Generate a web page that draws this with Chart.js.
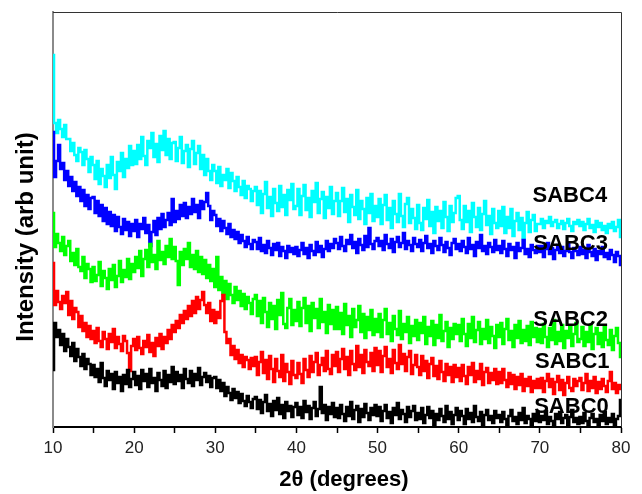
<!DOCTYPE html>
<html lang="en">
<head>
    <meta charset="UTF-8">
    <title>XRD SABC0 - SABC4</title>
    <script src="https://cdn.jsdelivr.net/npm/chart.js"></script>
    <style>
        html, body { margin: 0; padding: 0; background: #fff; }
    </style>
</head>
<body>

    <canvas id="xrdChart" width="642" height="494"></canvas>

    <script>
        // scan from 10 to 80 deg 2theta, one reading every 0.25 deg
        const thetaStart = 10;
        const thetaStep = 0.25;
        const xTickLabels = [10, 20, 30, 40, 50, 60, 70, 80];
        const sampleNames = ["SABC0", "SABC1", "SABC2", "SABC3", "SABC4"];

        // intensities (arb. units, already stacked), 20 readings per row = 5 deg
        const sabc0 = [
            57, 104, 90, 97, 82, 93, 76, 88, 80, 71, 84, 66, 78, 70, 61, 73, 58, 68, 63, 52,
            62, 50, 58, 45, 64, 49, 41, 56, 47, 53, 38, 55, 44, 50, 36, 52, 43, 57, 40, 48,
            55, 42, 51, 38, 57, 46, 53, 40, 58, 44, 49, 36, 54, 47, 41, 56, 39, 52, 45, 60,
            43, 55, 46, 52, 39, 58, 48, 44, 56, 41, 53, 47, 59, 42, 50, 54, 45, 51, 40, 49,
            50, 39, 47, 36, 44, 31, 40, 34, 27, 38, 29, 35, 24, 33, 26, 21, 31, 25, 19, 28,
            30, 18, 27, 14, 25, 32, 16, 23, 11, 26, 17, 29, 13, 22, 9, 25, 16, 21, 10, 20,
            24, 12, 20, 9, 26, 15, 21, 8, 19, 25, 11, 18, 40, 14, 22, 7, 20, 13, 24, 10,
            19, 9, 22, 13, 6, 20, 11, 25, 8, 17, 21, 5, 18, 10, 23, 14, 7, 19, 12, 22,
            11, 20, 6, 16, 22, 9, 15, 4, 19, 12, 24, 8, 17, 13, 5, 20, 10, 16, 21, 7,
            14, 8, 19, 4, 12, 20, 9, 16, 2, 13, 7, 18, 11, 5, 21, 8, 15, 3, 12, 19,
            7, 16, 11, 3, 18, 8, 14, 5, 21, 10, 6, 15, 2, 12, 17, 7, 11, 4, 16, 9,
            12, 5, 15, 8, 2, 11, 17, 6, 10, 3, 14, 7, 19, 4, 11, 8, 2, 13, 6, 15,
            5, 11, 7, 16, 3, 10, 6, 1, 13, 8, 15, 4, 9, 12, 2, 10, 17, 5, 9, 3,
            10, 4, 14, 6, 2, 9, 13, 5, 8, 1, 12, 6, 15, 3, 9, 5, 13, 2, 8, 11,
            27
        ];
        const sabc1 = [
            164, 122, 136, 125, 118, 131, 124, 135, 112, 126, 108, 119, 115, 100, 111, 96, 104, 90, 101, 88,
            96, 84, 99, 86, 80, 95, 88, 78, 93, 85, 98, 79, 90, 83, 76, 91, 86, 74, 56, 81,
            88, 77, 90, 79, 73, 86, 80, 92, 75, 84, 71, 89, 81, 93, 78, 90, 84, 97, 88, 102,
            95, 106, 99, 112, 104, 116, 108, 121, 111, 126, 114, 130, 118, 127, 135, 122, 114, 124, 106, 117,
            104, 115, 109, 126, 132, 95, 84, 88, 72, 81, 68, 77, 64, 72, 60, 70, 67, 58, 69, 61,
            70, 52, 65, 75, 54, 67, 48, 71, 58, 45, 68, 56, 50, 72, 46, 63, 55, 43, 66, 52,
            49, 64, 53, 44, 68, 57, 50, 71, 55, 65, 74, 52, 62, 69, 56, 76, 58, 53, 72, 61,
            75, 55, 68, 78, 58, 70, 52, 76, 63, 57, 81, 60, 72, 54, 77, 65, 61, 74, 56, 79,
            62, 76, 55, 71, 80, 60, 68, 54, 77, 64, 58, 82, 63, 73, 56, 70, 76, 53, 62, 72,
            60, 52, 71, 56, 66, 49, 63, 69, 51, 61, 48, 66, 55, 46, 63, 52, 60, 45, 62, 50,
            59, 46, 62, 51, 43, 60, 52, 64, 45, 56, 48, 63, 42, 55, 59, 44, 54, 47, 58, 43,
            55, 44, 58, 47, 40, 54, 43, 52, 38, 50, 42, 53, 36, 48, 41, 50, 35, 46, 39, 48,
            39, 49, 35, 46, 53, 40, 48, 33, 45, 51, 37, 47, 32, 44, 50, 39, 36, 48, 41, 46,
            49, 37, 44, 53, 36, 46, 39, 50, 34, 45, 38, 48, 41, 35, 46, 55, 38, 44, 34, 42,
            38
        ];
        const sabc2 = [
            214, 180, 193, 184, 176, 190, 172, 181, 186, 166, 174, 162, 178, 160, 156, 170, 149, 163, 158, 145,
            160, 146, 152, 165, 141, 156, 149, 138, 158, 147, 162, 140, 151, 166, 145, 157, 150, 168, 148, 163,
            155, 170, 159, 176, 151, 168, 177, 160, 183, 165, 172, 158, 186, 167, 175, 163, 181, 170, 188, 168,
            180, 166, 142, 175, 162, 178, 168, 184, 160, 172, 158, 176, 155, 170, 153, 167, 149, 162, 146, 158,
            140, 170, 137, 150, 133, 146, 128, 143, 132, 124, 140, 127, 136, 121, 133, 118, 130, 124, 113, 128,
            132, 111, 126, 104, 129, 115, 100, 124, 108, 121, 98, 127, 112, 134, 103, 99, 119, 128, 102, 117,
            106, 125, 101, 119, 129, 104, 121, 96, 124, 109, 118, 99, 128, 105, 115, 94, 122, 103, 117, 98,
            120, 98, 114, 93, 123, 102, 111, 90, 118, 100, 107, 121, 95, 113, 89, 110, 97, 117, 92, 108,
            95, 113, 90, 107, 118, 93, 104, 86, 111, 98, 92, 116, 88, 103, 95, 110, 84, 101, 91, 107,
            87, 104, 94, 110, 83, 100, 91, 106, 82, 102, 89, 112, 86, 96, 105, 80, 99, 88, 103, 93,
            102, 86, 108, 93, 81, 103, 89, 110, 85, 97, 105, 83, 98, 88, 107, 84, 100, 91, 79, 102,
            90, 104, 83, 98, 108, 87, 96, 80, 102, 89, 106, 84, 97, 86, 101, 82, 105, 90, 99, 85,
            98, 84, 103, 90, 80, 99, 87, 107, 83, 95, 86, 102, 79, 96, 89, 101, 81, 93, 104, 85,
            88, 100, 81, 95, 85, 102, 78, 93, 99, 83, 94, 80, 101, 87, 82, 97, 77, 91, 99, 84,
            70
        ];
        const sabc3 = [
            295, 250, 266, 282, 258, 264, 247, 256, 241, 250, 236, 245, 231, 240, 226, 237, 221, 232, 218, 229,
            230, 214, 226, 211, 222, 206, 219, 203, 215, 201, 212, 196, 210, 200, 193, 208, 197, 205, 191, 203,
            196, 207, 190, 203, 198, 209, 194, 202, 181, 195, 206, 192, 209, 198, 213, 200, 207, 214, 202, 228,
            205, 216, 208, 222, 211, 224, 209, 220, 213, 228, 215, 222, 209, 226, 218, 225, 234, 221, 207, 216,
            212, 201, 208, 196, 206, 199, 193, 203, 190, 197, 188, 195, 184, 192, 186, 180, 190, 183, 178, 187,
            185, 178, 189, 176, 182, 174, 186, 179, 172, 183, 177, 184, 171, 180, 176, 169, 181, 175, 179, 173,
            180, 171, 177, 184, 173, 179, 169, 182, 176, 172, 185, 175, 181, 170, 178, 186, 176, 183, 179, 188,
            184, 178, 190, 181, 176, 187, 183, 192, 179, 185, 174, 188, 182, 177, 191, 180, 199, 183, 178, 186,
            189, 181, 186, 177, 192, 183, 179, 188, 175, 185, 190, 180, 184, 194, 178, 186, 182, 176, 189, 183,
            180, 187, 176, 184, 191, 179, 183, 174, 186, 181, 177, 189, 182, 175, 185, 179, 172, 184, 188, 178,
            183, 176, 186, 180, 174, 189, 178, 182, 171, 185, 179, 192, 176, 181, 173, 184, 180, 175, 187, 177,
            181, 174, 186, 178, 171, 183, 177, 180, 169, 184, 176, 179, 187, 173, 178, 170, 182, 177, 174, 181,
            175, 181, 170, 178, 184, 173, 179, 168, 177, 182, 174, 180, 171, 176, 183, 175, 169, 179, 176, 172,
            180, 173, 177, 169, 182, 175, 171, 178, 167, 176, 173, 180, 170, 174, 168, 177, 172, 165, 175, 171,
            162
        ];
        const sabc4 = [
            372, 304, 294, 307, 298, 290, 302, 288, 288, 276, 284, 272, 266, 279, 275, 262, 277, 268, 255, 270,
            262, 248, 266, 243, 258, 251, 240, 262, 249, 270, 252, 238, 265, 256, 274, 250, 268, 259, 281, 262,
            276, 263, 282, 268, 290, 271, 262, 286, 279, 294, 270, 283, 265, 291, 277, 296, 272, 288, 268, 284,
            285, 266, 279, 290, 264, 276, 282, 260, 278, 286, 263, 274, 281, 258, 272, 252, 268, 256, 247, 262,
            256, 244, 260, 241, 252, 247, 258, 239, 254, 246, 236, 250, 240, 232, 246, 229, 241, 238, 226, 236,
            240, 222, 236, 214, 233, 245, 219, 230, 211, 238, 224, 216, 241, 220, 232, 212, 237, 227, 243, 218,
            221, 238, 212, 231, 242, 217, 229, 210, 236, 225, 244, 214, 228, 235, 209, 230, 219, 240, 213, 226,
            234, 211, 226, 239, 215, 228, 205, 232, 220, 212, 237, 208, 226, 218, 203, 229, 214, 233, 206, 221,
            210, 228, 203, 222, 232, 207, 219, 199, 226, 213, 205, 233, 211, 200, 223, 229, 204, 218, 209, 198,
            222, 204, 197, 219, 208, 227, 201, 215, 194, 220, 206, 216, 199, 225, 210, 196, 221, 205, 214, 229,
            231, 207, 198, 221, 205, 216, 195, 224, 210, 200, 219, 197, 213, 226, 202, 211, 193, 218, 204, 199,
            216, 201, 220, 194, 210, 199, 218, 191, 206, 214, 197, 209, 189, 204, 215, 195, 207, 212, 196, 203,
            203, 208, 199, 206, 204, 210, 201, 205, 207, 199, 203, 206, 198, 204, 208, 201, 196, 205, 203, 207,
            201, 205, 197, 203, 208, 199, 202, 195, 206, 200, 204, 197, 201, 194, 203, 199, 205, 196, 200, 207,
            190
        ];

        const seriesValues = [sabc0, sabc1, sabc2, sabc3, sabc4];
        const seriesColors = ["#000000", "#ff0000", "#00ff00", "#0000ff", "#00ffff"];

        // where each sample name sits (2theta, intensity at baseline)
        const nameAnchors = [[69.3, 14], [69.4, 59], [69.2, 101], [69.2, 177], [69.1, 225]];

        const fontFamily = "'Liberation Sans', Arial, sans-serif";

        function toPoints(values) {
            return values.map((v, i) => ({ x: thetaStart + i * thetaStep, y: v }));
        }

        // closes the box on the top and right sides
        const frameBox = {
            id: "frameBox",
            afterDraw(chart) {
                const { ctx, chartArea: a } = chart;
                ctx.save();
                ctx.strokeStyle = "#333";
                ctx.lineWidth = 1;
                ctx.beginPath();
                ctx.moveTo(a.left, a.top + 0.5);
                ctx.lineTo(a.right + 0.5, a.top + 0.5);
                ctx.lineTo(a.right + 0.5, a.bottom);
                ctx.stroke();
                ctx.restore();
            }
        };

        // sample names next to each pattern + axis titles
        const textLabels = {
            id: "textLabels",
            afterDraw(chart) {
                const { ctx, scales } = chart;
                ctx.save();
                ctx.fillStyle = "#000";
                ctx.font = "bold 22px " + fontFamily;
                ctx.textAlign = "left";
                ctx.textBaseline = "alphabetic";
                sampleNames.forEach((name, i) => {
                    const px = scales.x.getPixelForValue(nameAnchors[i][0]);
                    const py = scales.y.getPixelForValue(nameAnchors[i][1]);
                    ctx.fillText(name, px, py);
                });

                ctx.textAlign = "center";
                ctx.textBaseline = "middle";
                ctx.fillText("2θ (degrees)", 344, 480);

                ctx.font = "bold 24px " + fontFamily;
                ctx.translate(26, 237);
                ctx.rotate(-Math.PI / 2);
                ctx.fillText("Intensity (arb unit)", 0, 0);
                ctx.restore();
            }
        };

        const ctx = document.getElementById("xrdChart").getContext("2d");
        new Chart(ctx, {
            type: "line",
            data: {
                datasets: seriesValues.map((vals, i) => ({
                    label: sampleNames[i],
                    data: toPoints(vals),
                    borderColor: seriesColors[i],
                    backgroundColor: seriesColors[i],
                    borderWidth: 2.5,
                    stepped: "middle",
                    pointRadius: 0,
                    fill: false
                }))
            },
            options: {
                responsive: false,
                animation: false,
                layout: { padding: { top: 12, right: 21, left: 0, bottom: 0 } },
                plugins: {
                    legend: { display: false },
                    tooltip: { enabled: false }
                },
                scales: {
                    x: {
                        type: "linear",
                        min: 10,
                        max: 80,
                        border: { display: true, color: "#000", width: 2 },
                        grid: {
                            display: true,
                            drawOnChartArea: false,
                            drawTicks: true,
                            tickLength: 6,
                            tickColor: "#000",
                            tickWidth: 1.5
                        },
                        ticks: {
                            stepSize: 5,
                            autoSkip: false,
                            maxRotation: 0,
                            padding: 5,
                            color: "#222",
                            font: { family: fontFamily, size: 17 },
                            callback: (value) => xTickLabels.includes(value) ? value : ""
                        },
                        afterFit: (scale) => { scale.height = 67; }
                    },
                    y: {
                        min: 0,
                        max: 415,
                        border: { display: true, color: "#8a8a8a", width: 2 },
                        grid: { display: false },
                        ticks: { display: false },
                        afterFit: (scale) => { scale.width = 53; }
                    }
                }
            },
            plugins: [frameBox, textLabels]
        });
    </script>

</body>
</html>
